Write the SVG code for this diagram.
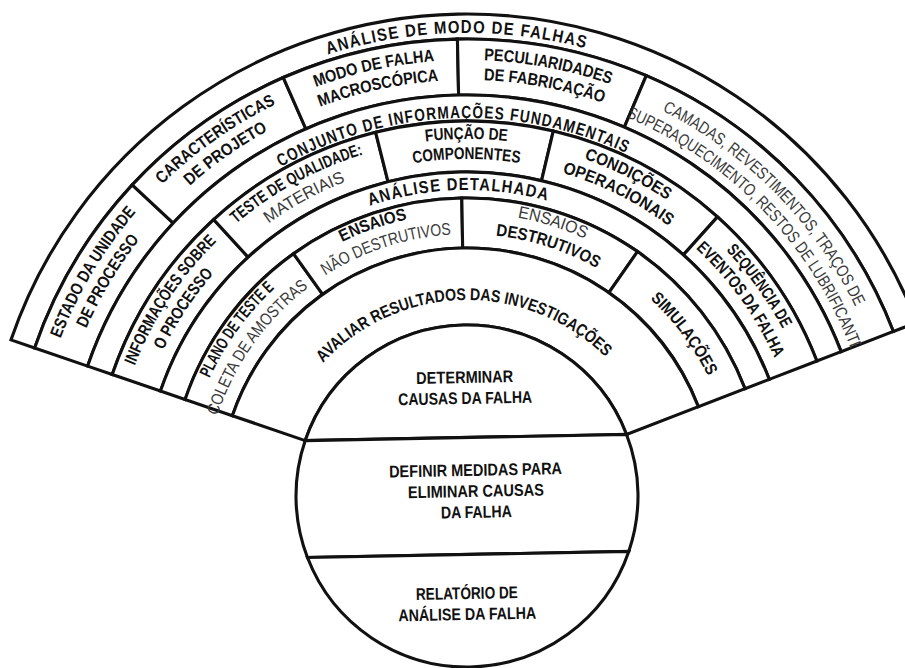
<svg xmlns="http://www.w3.org/2000/svg" width="905" height="668" viewBox="0 0 905 668">
<style>
  .sec{fill:#fff;stroke:#111;stroke-width:3.1;stroke-linejoin:miter}
  text{font-family:"Liberation Sans",Arial,Helvetica,sans-serif;font-size:17px;text-anchor:middle}
  .b{font-weight:700;fill:#111}
  .l{font-weight:400;fill:#3a3a3a}
  .h{font-weight:700;fill:#111;letter-spacing:1.5px;font-size:17.5px}
</style>
<defs>
  <!-- baseline arcs centred on (467,496), running clockwise from 200deg to -20deg; midpoint sits at the top -->
  <path id="p463" d="M31.92 654.36 A463 463 0 1 1 902.08 654.36"/>
  <path id="p436" d="M57.29 645.12 A436 436 0 1 1 876.71 645.12"/>
  <path id="p416" d="M76.09 638.28 A416 416 0 1 1 857.91 638.28"/>
  <path id="p432" d="M61.05 643.75 A432 432 0 1 1 872.95 643.75"/>
  <path id="p411" d="M80.79 636.57 A411 411 0 1 1 853.21 636.57"/>
  <path id="p378" d="M111.80 625.28 A378 378 0 1 1 822.20 625.28"/>
  <path id="p357" d="M131.53 618.10 A357 357 0 1 1 802.47 618.10"/>
  <path id="p337" d="M150.32 611.26 A337 337 0 1 1 783.68 611.26"/>
  <path id="p306" d="M179.45 600.66 A306 306 0 1 1 754.55 600.66"/>
  <path id="p283" d="M201.07 592.79 A283 283 0 1 1 732.93 592.79"/>
  <path id="p269" d="M214.22 588.00 A269 269 0 1 1 719.78 588.00"/>
  <path id="p262" d="M220.80 585.61 A262 262 0 1 1 713.20 585.61"/>
  <path id="p196" d="M282.82 563.04 A196 196 0 1 1 651.18 563.04"/>
  <clipPath id="clipA5">
    <path d="M654.33 79.16 A457 457 0 0 1 896.44 339.70 L843.82 358.85 A401 401 0 0 0 631.38 130.24 Z"/>
  </clipPath>
</defs>
<rect width="905" height="668" fill="#fff"/>
<g transform="rotate(-1.1 467 496)">

  <!-- outer ring title -->
  <g id="analise-modo-falhas">
    <path class="sec" d="M14.07 331.15 A482 482 0 0 1 919.93 331.15 L896.44 339.70 A457 457 0 0 0 37.56 339.70 Z"/>
    <text class="h" transform="rotate(-0.2 467 496)"><textPath href="#p463" startOffset="50%" textLength="262" lengthAdjust="spacingAndGlyphs">ANÁLISE DE MODO DE FALHAS</textPath></text>
  </g>

  <!-- ring A -->
  <g id="estado-unidade">
    <path class="sec" d="M37.56 339.70 A457 457 0 0 1 138.26 178.54 L178.54 217.44 A401 401 0 0 0 90.18 358.85 Z"/>
    <text class="b" transform="rotate(-58 467 496)"><textPath href="#p436" startOffset="50%" textLength="148" lengthAdjust="spacingAndGlyphs">ESTADO DA UNIDADE</textPath></text>
    <text class="b" transform="rotate(-58 467 496)"><textPath href="#p416" startOffset="50%" textLength="104" lengthAdjust="spacingAndGlyphs">DE PROCESSO</textPath></text>
  </g>
  <g id="caracteristicas-projeto">
    <path class="sec" d="M138.26 178.54 A457 457 0 0 1 291.37 74.09 L312.90 125.79 A401 401 0 0 0 178.54 217.44 Z"/>
    <text class="b" transform="rotate(-34.1 467 496)"><textPath href="#p436" startOffset="50%" textLength="140" lengthAdjust="spacingAndGlyphs">CARACTERÍSTICAS</textPath></text>
    <text class="b" transform="rotate(-34.1 467 496)"><textPath href="#p416" startOffset="50%" textLength="96" lengthAdjust="spacingAndGlyphs">DE PROJETO</textPath></text>
  </g>
  <g id="modo-falha-macroscopica">
    <path class="sec" d="M291.37 74.09 A457 457 0 0 1 466.20 39.00 L466.30 95.00 A401 401 0 0 0 312.90 125.79 Z"/>
    <text class="b" transform="rotate(-11.2 467 496)"><textPath href="#p436" startOffset="50%" textLength="122" lengthAdjust="spacingAndGlyphs">MODO DE FALHA</textPath></text>
    <text class="b" transform="rotate(-11.2 467 496)"><textPath href="#p416" startOffset="50%" textLength="122" lengthAdjust="spacingAndGlyphs">MACROSCÓPICA</textPath></text>
  </g>
  <g id="peculiaridades-fabricacao">
    <path class="sec" d="M466.20 39.00 A457 457 0 0 1 654.33 79.16 L631.38 130.24 A401 401 0 0 0 466.30 95.00 Z"/>
    <text class="b" transform="rotate(11.8 467 496)"><textPath href="#p436" startOffset="50%" textLength="129" lengthAdjust="spacingAndGlyphs">PECULIARIDADES</textPath></text>
    <text class="b" transform="rotate(11.8 467 496)"><textPath href="#p416" startOffset="50%" textLength="122" lengthAdjust="spacingAndGlyphs">DE FABRICAÇÃO</textPath></text>
  </g>
  <g id="camadas-revestimentos">
    <path class="sec" d="M654.33 79.16 A457 457 0 0 1 896.44 339.70 L843.82 358.85 A401 401 0 0 0 631.38 130.24 Z"/>
    <text class="l" transform="rotate(46.55 467 496)"><textPath href="#p432" startOffset="50%" textLength="280" lengthAdjust="spacingAndGlyphs">CAMADAS, REVESTIMENTOS, TRAÇOS DE</textPath></text>
    <g clip-path="url(#clipA5)">
      <text class="l" transform="rotate(47.3 467 496)"><textPath href="#p411" startOffset="50%" textLength="336" lengthAdjust="spacingAndGlyphs">SUPERAQUECIMENTO, RESTOS DE LUBRIFICANTE</textPath></text>
    </g>
  </g>

  <!-- middle ring title -->
  <g id="conjunto-informacoes">
    <path class="sec" d="M90.18 358.85 A401 401 0 0 1 843.82 358.85 L819.38 367.74 A375 375 0 0 0 114.62 367.74 Z"/>
    <text class="h" transform="rotate(-1.15 467 496)"><textPath href="#p378" startOffset="50%" textLength="360" lengthAdjust="spacingAndGlyphs">CONJUNTO DE INFORMAÇÕES FUNDAMENTAIS</textPath></text>
  </g>

  <!-- ring B -->
  <g id="informacoes-processo">
    <path class="sec" d="M114.62 367.74 A375 375 0 0 1 219.01 214.71 L252.74 252.96 A324 324 0 0 0 162.54 385.19 Z"/>
    <text class="b" transform="rotate(-55.45 467 496)"><textPath href="#p357" startOffset="50%" textLength="150" lengthAdjust="spacingAndGlyphs">INFORMAÇÕES SOBRE</textPath></text>
    <text class="b" transform="rotate(-55.45 467 496)"><textPath href="#p337" startOffset="50%" textLength="92" lengthAdjust="spacingAndGlyphs">O PROCESSO</textPath></text>
  </g>
  <g id="teste-qualidade">
    <path class="sec" d="M219.01 214.71 A375 375 0 0 1 382.64 130.61 L394.12 180.30 A324 324 0 0 0 252.74 252.96 Z"/>
    <text class="b" transform="rotate(-27.5 467 496)"><textPath href="#p357" startOffset="50%" textLength="146" lengthAdjust="spacingAndGlyphs">TESTE DE QUALIDADE:</textPath></text>
    <text class="l" transform="rotate(-27.5 467 496)"><textPath href="#p337" startOffset="50%" textLength="88" lengthAdjust="spacingAndGlyphs">MATERIAIS</textPath></text>
  </g>
  <g id="funcao-componentes">
    <path class="sec" d="M382.64 130.61 A375 375 0 0 1 560.26 132.78 L547.58 182.18 A324 324 0 0 0 394.12 180.30 Z"/>
    <text class="b" transform="rotate(1 467 496)"><textPath href="#p357" startOffset="50%" textLength="82" lengthAdjust="spacingAndGlyphs">FUNÇÃO DE</textPath></text>
    <text class="b" transform="rotate(1 467 496)"><textPath href="#p337" startOffset="50%" textLength="107" lengthAdjust="spacingAndGlyphs">COMPONENTES</textPath></text>
  </g>
  <g id="condicoes-operacionais">
    <path class="sec" d="M560.26 132.78 A375 375 0 0 1 722.75 221.74 L687.97 259.04 A324 324 0 0 0 547.58 182.18 Z"/>
    <text class="b" transform="rotate(27.7 467 496)"><textPath href="#p357" startOffset="50%" textLength="93" lengthAdjust="spacingAndGlyphs">CONDIÇÕES</textPath></text>
    <text class="b" transform="rotate(27.7 467 496)"><textPath href="#p337" startOffset="50%" textLength="120" lengthAdjust="spacingAndGlyphs">OPERACIONAIS</textPath></text>
  </g>
  <g id="sequencia-eventos">
    <path class="sec" d="M722.75 221.74 A375 375 0 0 1 819.38 367.74 L771.46 385.19 A324 324 0 0 0 687.97 259.04 Z"/>
    <text class="b" transform="rotate(55.4 467 496)"><textPath href="#p357" startOffset="50%" textLength="97" lengthAdjust="spacingAndGlyphs">SEQUÊNCIA DE</textPath></text>
    <text class="b" transform="rotate(55.4 467 496)"><textPath href="#p337" startOffset="50%" textLength="136" lengthAdjust="spacingAndGlyphs">EVENTOS DA FALHA</textPath></text>
  </g>

  <!-- inner ring title -->
  <g id="analise-detalhada">
    <path class="sec" d="M162.54 385.19 A324 324 0 0 1 771.46 385.19 L747.03 394.08 A298 298 0 0 0 186.97 394.08 Z"/>
    <text class="h" transform="rotate(-0.5 467 496)"><textPath href="#p306" startOffset="50%" textLength="181" lengthAdjust="spacingAndGlyphs">ANÁLISE DETALHADA</textPath></text>
  </g>

  <!-- ring C -->
  <g id="plano-teste">
    <path class="sec" d="M186.97 394.08 A298 298 0 0 1 298.21 250.41 L326.53 291.62 A248 248 0 0 0 233.96 411.18 Z"/>
    <text class="b" transform="rotate(-53 467 496)"><textPath href="#p283" startOffset="50%" textLength="112" lengthAdjust="spacingAndGlyphs">PLANO DE TESTE E</textPath></text>
    <text class="l" transform="rotate(-53.6 467 496)"><textPath href="#p262" startOffset="50%" textLength="160" lengthAdjust="spacingAndGlyphs">COLETA DE AMOSTRAS</textPath></text>
  </g>
  <g id="ensaios-nao-destrutivos">
    <path class="sec" d="M298.21 250.41 A298 298 0 0 1 467.52 198.00 L467.43 248.00 A248 248 0 0 0 326.53 291.62 Z"/>
    <text class="b" transform="rotate(-18.1 467 496)"><textPath href="#p283" startOffset="50%" textLength="69" lengthAdjust="spacingAndGlyphs">ENSAIOS</textPath></text>
    <text class="l" transform="rotate(-17 467 496)"><textPath href="#p262" startOffset="50%" textLength="134" lengthAdjust="spacingAndGlyphs">NÃO DESTRUTIVOS</textPath></text>
  </g>
  <g id="ensaios-destrutivos">
    <path class="sec" d="M467.52 198.00 A298 298 0 0 1 642.16 254.91 L612.77 295.36 A248 248 0 0 0 467.43 248.00 Z"/>
    <text class="l" transform="rotate(18.55 467 496)"><textPath href="#p283" startOffset="50%" textLength="71" lengthAdjust="spacingAndGlyphs">ENSAIOS</textPath></text>
    <text class="b" transform="rotate(19.1 467 496)"><textPath href="#p262" startOffset="50%" textLength="107" lengthAdjust="spacingAndGlyphs">DESTRUTIVOS</textPath></text>
  </g>
  <g id="simulacoes">
    <path class="sec" d="M642.16 254.91 A298 298 0 0 1 747.03 394.08 L700.04 411.18 A248 248 0 0 0 612.77 295.36 Z"/>
    <text class="b" transform="rotate(54.35 467 496)"><textPath href="#p269" startOffset="50%" textLength="97" lengthAdjust="spacingAndGlyphs">SIMULAÇÕES</textPath></text>
  </g>

  <!-- ring D -->
  <g id="avaliar-resultados">
    <path class="sec" d="M233.96 411.18 A248 248 0 0 1 700.04 411.18 L627.69 437.51 A171 171 0 0 0 306.31 437.51 Z"/>
    <text class="b" transform="rotate(-0.1 467 496)"><textPath href="#p196" startOffset="50%" textLength="315" lengthAdjust="spacingAndGlyphs">AVALIAR RESULTADOS DAS INVESTIGAÇÕES</textPath></text>
  </g>

  <!-- central disc, cut into three -->
  <g id="determinar-causas">
    <path class="sec" d="M306.31 437.51 A171 171 0 0 1 627.69 437.51 Z"/>
    <text class="b" x="467" y="383" textLength="97" lengthAdjust="spacingAndGlyphs">DETERMINAR</text>
    <text class="b" x="467" y="404" textLength="134" lengthAdjust="spacingAndGlyphs">CAUSAS DA FALHA</text>
  </g>
  <g id="definir-medidas">
    <path class="sec" d="M306.31 437.51 L627.69 437.51 A171 171 0 0 1 627.69 554.49 L306.31 554.49 A171 171 0 0 1 306.31 437.51 Z"/>
    <text class="b" x="476" y="476" textLength="173" lengthAdjust="spacingAndGlyphs">DEFINIR MEDIDAS PARA</text>
    <text class="b" x="476" y="497" textLength="136" lengthAdjust="spacingAndGlyphs">ELIMINAR CAUSAS</text>
    <text class="b" x="476" y="518" textLength="71" lengthAdjust="spacingAndGlyphs">DA FALHA</text>
  </g>
  <g id="relatorio-analise">
    <path class="sec" d="M627.69 554.49 A171 171 0 0 1 306.31 554.49 Z"/>
    <text class="b" x="465" y="599" textLength="102" lengthAdjust="spacingAndGlyphs">RELATÓRIO DE</text>
    <text class="b" x="465" y="620" textLength="138" lengthAdjust="spacingAndGlyphs">ANÁLISE DA FALHA</text>
  </g>
</g>
</svg>
